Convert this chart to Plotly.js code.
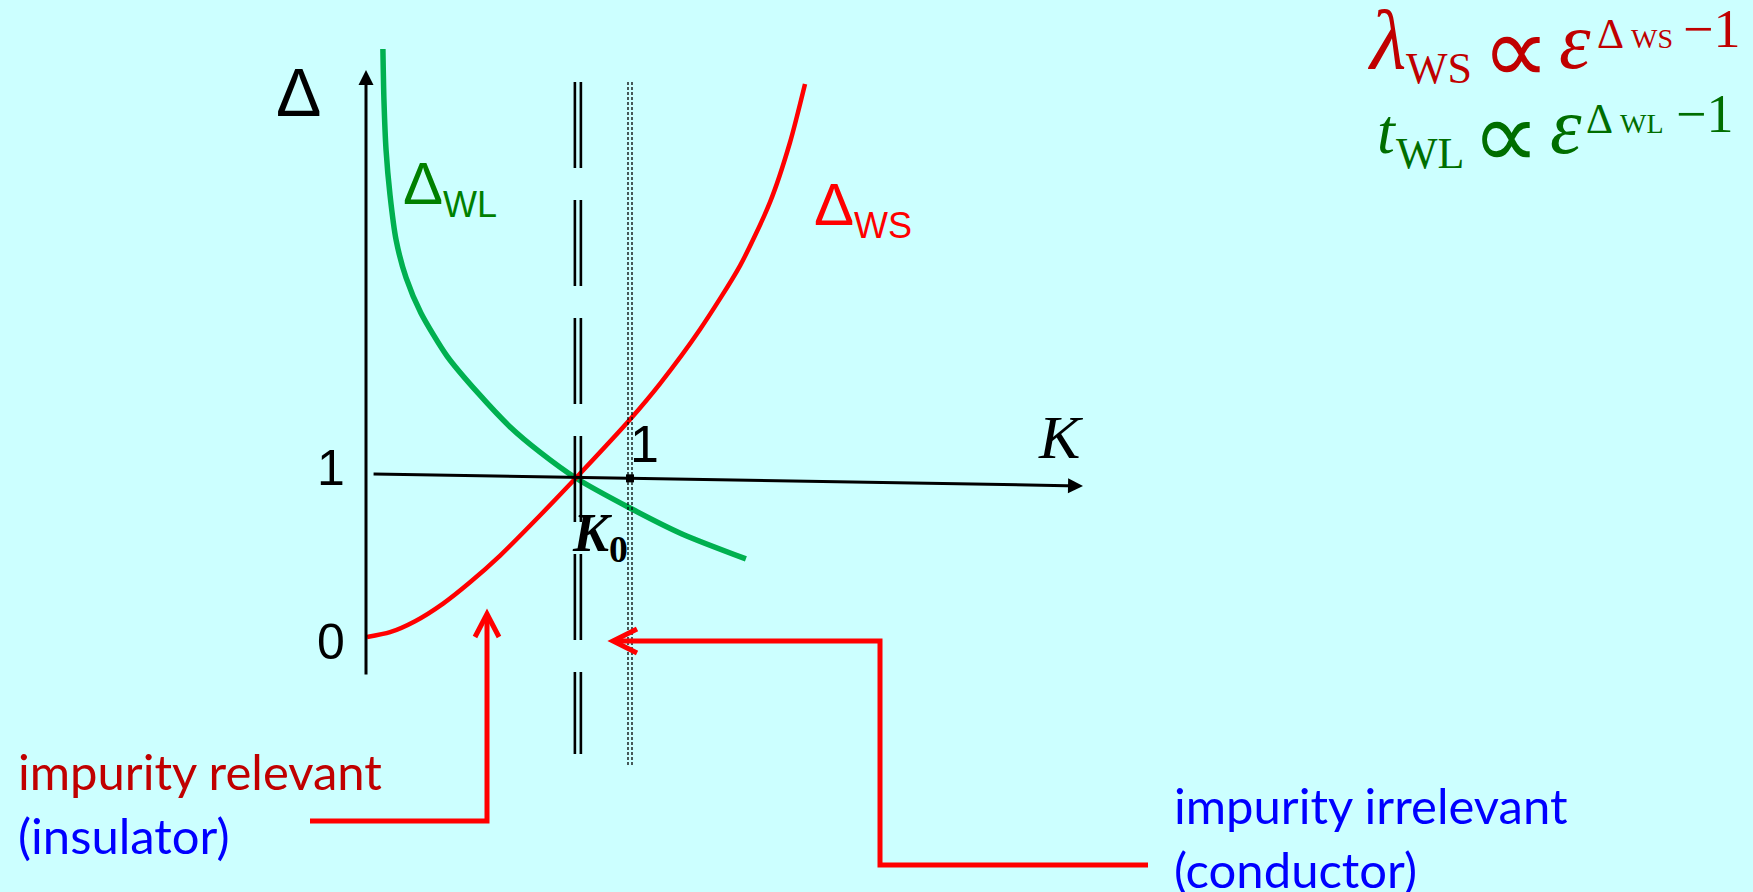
<!DOCTYPE html>
<html>
<head>
<meta charset="utf-8">
<script src="https://cdn.plot.ly/plotly-3.0.1.min.js"></script>
<style>
  html, body { margin: 0; padding: 0; background: #CCFFFF; }
  #chart { width: 1753px; height: 892px; }
</style>
</head>
<body>
<div id="chart"></div>
<script>
// Scaling dimensions of the impurity operators versus the Luttinger parameter K
const K_wl = [0.064, 0.068, 0.076, 0.091, 0.114, 0.152, 0.208, 0.307, 0.424, 0.545, 0.659, 0.795, 1.000, 1.197, 1.439];
const D_wl = [3.698, 3.377, 3.063, 2.780, 2.497, 2.258, 2.038, 1.767, 1.535, 1.323, 1.163, 1.000, 0.811, 0.648, 0.491];
const K_ws = [0.004, 0.091, 0.186, 0.292, 0.394, 0.508, 0.659, 0.795, 1.000, 1.114, 1.265, 1.417, 1.530, 1.606, 1.663];
const D_ws = [0.000, 0.030, 0.099, 0.210, 0.344, 0.512, 0.764, 1.000, 1.368, 1.594, 1.934, 2.336, 2.733, 3.110, 3.478];
const K0 = 0.795;            // where both dimensions equal 1
const K_free = 1;            // non-interacting point
const deltaTicks = [0, 1];
const deltaTickLabels = ['0', '1'];

const W = 1753, H = 892;
const xRange = [-1.38636, 5.25379];
const yRange = [-1.60377, 4.00629];
const kPerPx = (xRange[1] - xRange[0]) / W;
const pxX = p => p / W;
const pxY = p => 1 - p / H;

// K axis (drawn at Δ = 1, slightly hand-tilted) and Δ axis
const kAxisStart = [0.023, 1.025];
const kAxisEnd = [2.716, 0.950];
const dAxisTop = 3.566, dAxisBottom = -0.245;
const kAxisAt = k => kAxisStart[1] + (kAxisEnd[1] - kAxisStart[1]) * (k - kAxisStart[0]) / (kAxisEnd[0] - kAxisStart[0]);

const lineTop = 3.491, dashBottom = -0.736, dotBottom = -0.818;

const traces = [
  { x: K_wl, y: D_wl, mode: 'lines', line: { color: '#00B050', width: 5.5, shape: 'spline', smoothing: 0.7 }, hoverinfo: 'skip' },
  { x: K_ws, y: D_ws, mode: 'lines', line: { color: '#FF0000', width: 4.5, shape: 'spline', smoothing: 0.7 }, hoverinfo: 'skip' },
  { x: [K_free], y: [kAxisAt(K_free)], mode: 'markers', marker: { symbol: 'square', size: 8, color: '#000000' }, hoverinfo: 'skip' }
];

const vline = (k, y0, y1, dash, width) => ({
  type: 'line', xref: 'x', yref: 'y', x0: k, x1: k, y0: y0, y1: y1,
  line: { color: '#000000', width: width, dash: dash }
});

const path = pts => pts.map((p, i) => (i ? 'L' : 'M') + pxX(p[0]).toFixed(5) + ',' + pxY(p[1]).toFixed(5)).join(' ');
const redPath = pts => ({ type: 'path', xref: 'paper', yref: 'paper', path: path(pts), line: { color: '#FF0000', width: 5 } });

const shapes = [
  vline(K0 - 1 * kPerPx, lineTop, dashBottom, '86px,32px', 2.6),
  vline(K0 + 5 * kPerPx, lineTop, dashBottom, '86px,32px', 2.6),
  vline(K_free - 2 * kPerPx, lineTop, dotBottom, '3px,2px', 1.3),
  vline(K_free + 2 * kPerPx, lineTop, dotBottom, '3px,2px', 1.3),
  redPath([[310, 821], [487, 821], [487, 616]]),
  redPath([[475, 637], [487, 614], [499, 637]]),
  redPath([[1148, 865], [880, 865], [880, 641], [615, 641]]),
  redPath([[637, 629], [613, 641], [637, 653]])
];

function label(text, x, y, size, color, family, extra) {
  return Object.assign({
    xref: 'paper', yref: 'paper', x: pxX(x), y: pxY(y), text: text, showarrow: false,
    font: { size: size, color: color, family: family }, xanchor: 'center', yanchor: 'middle'
  }, extra || {});
}

const SANS = 'Liberation Sans, Arial, sans-serif';
const SERIF = 'Liberation Serif, Times New Roman, serif';
const DVSANS = 'DejaVu Sans, sans-serif';
const BODY = 'Lato, Carlito, Calibri, sans-serif';

// a text piece placed by its left edge and its baseline
function piece(text, xLeft, baseline, size, family, color, k) {
  return {
    xref: 'paper', yref: 'paper', x: pxX(xLeft), y: pxY(baseline - k * size), text: text, showarrow: false,
    font: { size: size, color: color, family: family }, xanchor: 'left', yanchor: 'middle', borderpad: 0
  };
}
const kSerif = 0.3375;

// proportionality relations: x positions of each piece for the two lines
function relation(p, color) {
  return [
    piece('<i>' + p.head + '</i>', p.xHead, p.base, p.headSize, SERIF, color, kSerif),
    piece(p.sub, p.xSub, p.base + 15, 44, SERIF, color, kSerif),
    label('∝', p.xProp, p.base - 18, 95, color, DVSANS),
    piece('<i>ε</i>', p.xEps, p.base, 80, SERIF, color, kSerif),
    piece('Δ', p.xDelta, p.base - 20, 42, SERIF, color, kSerif),
    piece(p.sub, p.xSmall, p.base - 20, 28, SERIF, color, kSerif),
    piece('−1', p.xMinus, p.base - 21, 54, SERIF, color, kSerif)
  ];
}

const annotations = [
  // axes with arrowheads
  { xref: 'x', yref: 'y', axref: 'x', ayref: 'y', x: 0, y: dAxisTop, ax: 0, ay: dAxisBottom, text: '',
    showarrow: true, arrowhead: 2, arrowsize: 1, arrowwidth: 3, arrowcolor: '#000000', standoff: 0 },
  { xref: 'x', yref: 'y', axref: 'x', ayref: 'y', x: kAxisEnd[0], y: kAxisEnd[1], ax: kAxisStart[0], ay: kAxisStart[1], text: '',
    showarrow: true, arrowhead: 2, arrowsize: 1, arrowwidth: 3, arrowcolor: '#000000', standoff: 0 },
  // axis labels
  label('Δ', 298, 92, 68, '#000000', SANS),
  label('<i>K</i>', 1061, 437, 62, '#000000', SERIF),
  label('1', 644, 444, 52, '#000000', SANS),
  label('<b><i>K</i></b><sub><b>0</b></sub>', 600, 536, 54, '#000000', SERIF),
  // curve labels
  label('Δ<sub><span style="font-size:36px">WL</span></sub>', 450, 188, 60, '#008000', SANS),
  label('Δ<sub><span style="font-size:36px">WS</span></sub>', 863, 208, 60, '#FF0000', SANS),
  // callout texts
  label('<span style="color:#C00000">impurity relevant</span><br><span style="color:#0000FF">(insulator)</span>',
        16, 803, 49, '#0000FF', BODY, { xanchor: 'left', align: 'left' }),
  label('impurity irrelevant<br>(conductor)', 1172, 837, 49, '#0000FF', BODY, { xanchor: 'left', align: 'left' })
].concat(
  relation({ head: 'λ', sub: 'WS', base: 68, headSize: 84, xHead: 1366, xSub: 1405, xProp: 1516, xEps: 1558,
             xDelta: 1596, xSmall: 1630, xMinus: 1682 }, '#C00000'),
  relation({ head: 't', sub: 'WL', base: 153, headSize: 64, xHead: 1376, xSub: 1395, xProp: 1506, xEps: 1549,
             xDelta: 1585, xSmall: 1619, xMinus: 1675 }, '#006E00')
);

// Δ tick labels beside the vertical axis
const tickShift = [-5, 10];
deltaTicks.forEach((d, i) => {
  annotations.push({
    xref: 'paper', yref: 'y', x: pxX(331), y: d, yshift: tickShift[i], text: deltaTickLabels[i], showarrow: false,
    font: { size: 50, color: '#000000', family: SANS }, xanchor: 'center', yanchor: 'middle'
  });
});

const layout = {
  width: W, height: H,
  margin: { l: 0, r: 0, t: 0, b: 0, pad: 0 },
  paper_bgcolor: '#CCFFFF', plot_bgcolor: '#CCFFFF',
  showlegend: false,
  xaxis: { range: xRange, visible: false, fixedrange: true },
  yaxis: { range: yRange, visible: false, fixedrange: true },
  shapes: shapes,
  annotations: annotations
};

Plotly.newPlot('chart', traces, layout, { staticPlot: true, displayModeBar: false });
</script>
</body>
</html>
